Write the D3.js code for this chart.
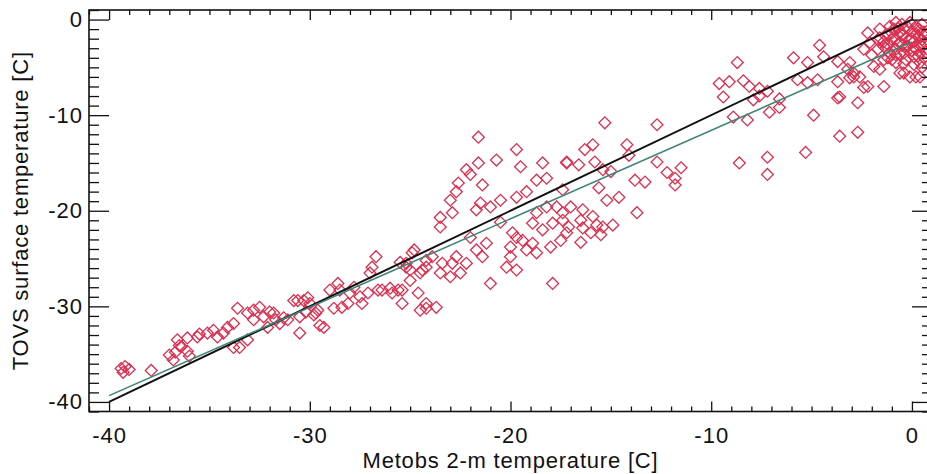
<!DOCTYPE html>
<html>
<head>
<meta charset="utf-8">
<script src="https://cdn.jsdelivr.net/npm/d3@7"></script>
<style>
  body { margin: 0; background: #fff; }
  text { font-family: 'Liberation Sans', Arial, sans-serif; fill: #111; }
</style>
</head>
<body>
<script>

const WIDTH = 927;
const HEIGHT = 474;

// Metobs 2-m temperature [C] (x) and TOVS surface temperature [C] (y)
const metobs = [
  -39.4, -39.2, -39.0, -39.3, -37.9, -37.0, -36.7, -36.4, -36.1, -36.8, -36.0, -36.6, -36.1, -36.5, -35.6,
  -35.5, -35.1, -34.8, -34.6, -34.3, -34.1, -33.8, -33.6, -33.1, -32.8, -32.5, -32.3, -32.1, -33.5, -33.1,
  -33.8, -32.8, -31.8, -31.3, -30.8, -30.5, -30.1, -29.7,
  -32.0, -31.7, -31.5, -31.1, -30.6, -30.3, -30.0, -30.5, -30.2, -29.8, -29.6, -29.5, -29.3, -29.0, -28.6,
  -28.5, -28.8, -28.4, -28.1, -28.0, -27.8, -27.5, -27.4, -27.1, -27.0, -26.9, -26.7, -26.6, -26.4, -26.0,
  -25.9, -25.6, -25.4, -25.5, -25.2, -25.0, -24.9, -24.8, -24.6, -24.5, -24.4, -24.2, -24.2,
  -21.6, -19.7, -20.7, -21.6, -19.5, -18.4, -17.2, -22.2, -22.0, -18.7, -18.2, -22.6, -21.4, -22.7, -20.5,
  -19.7, -19.2, -17.4, -23.0, -21.5, -21.7, -21.0, -23.5, -22.9, -18.7, -18.2, -17.7, -17.4, -23.5, -20.5,
  -19.9, -18.9, -18.4, -17.9, -17.4, -19.7, -19.4, -18.9, -18.7, -18.0, -17.5, -17.2, -20.0, -21.2, -21.7,
  -22.0, -21.4, -22.2, -22.7, -22.9, -23.4, -23.9, -24.2, -23.5, -23.0, -22.5, -24.5, -25.0, -25.4, -24.2,
  -23.7, -21.0, -20.2, -19.7, -20.0, -19.2, -17.9, -25.2,
  -15.3, -12.7, -16.3, -15.9, -14.2, -14.1, -17.2, -16.6, -15.8, -15.4, -15.0, -12.7, -12.2, -11.5, -11.8,
  -11.8, -13.8, -13.3, -15.6, -15.2, -14.6, -17.0, -16.4, -15.9, -16.5, -13.7, -17.1, -16.4, -15.7, -15.4,
  -14.9, -16.0, -15.5, -16.5,
  -8.7, -5.9, -4.6, -4.4, -5.2, -3.7, -3.2, -9.6, -9.1, -8.4, -8.1, -7.6, -7.2, -9.4, -7.9,
  -7.6, -6.6, -5.7, -5.2, -4.7, -3.7, -3.7, -2.7, -3.1, -7.1, -6.6, -8.9, -8.2, -4.9, -3.6,
  -2.7, -8.6, -7.2, -5.3, -7.2, -2.9, -2.6, -2.2, -1.4, -0.4, 0.2, -3.6,
  -2.2, -1.6, -1.1, -0.8, -0.5, -0.1, 0.2, 0.5, -2.4, -2.1, -1.7, -1.4, -1.1, -0.8, -0.3,
  0.2, 0.5, -3.1, -1.9, -1.6, -1.4, -0.8, -0.3, 0.4, -0.6, -0.1, 0.4, -2.9, -2.4,
  -1.2, -1.0, -0.6, -0.3, 0.0, 0.3, 0.6, -1.4, -0.9, -0.4, 0.1, 0.5, -1.2, -0.6, -0.1,
  -0.8, -0.4, 0.1, 0.6, -1.0, -1.7, -2.0, -1.6, -1.2, 0.3, -0.5, 0.1, 0.7, 0.4,
  -0.9, -0.7, -0.5, -0.2, 0.0, 0.2, 0.4, 0.6, -1.3, -0.6, 0.0, 0.3, -0.4, 0.1, 0.5,
  -1.0, -0.2, 0.4, 0.7, -0.7
]

const tovs = [
  -36.5, -36.3, -36.6, -36.9, -36.7, -35.1, -34.8, -34.2, -34.7, -35.6, -35.2, -33.5, -33.3, -34.1, -33.2,
  -32.9, -32.8, -32.5, -33.2, -32.8, -32.2, -31.8, -30.2, -30.7, -31.4, -30.1, -31.1, -32.2, -34.3, -33.5,
  -34.3, -30.4, -30.7, -31.2, -29.4, -32.8, -29.1, -30.7,
  -30.6, -31.4, -31.8, -31.4, -29.4, -29.4, -29.7, -31.1, -30.6, -30.9, -30.4, -32.0, -32.2, -28.3, -27.6,
  -28.3, -30.2, -30.1, -29.7, -28.6, -28.0, -29.0, -29.7, -28.6, -26.5, -25.9, -24.8, -28.3, -28.3, -28.1,
  -28.6, -28.3, -29.7, -25.4, -25.5, -26.2, -24.4, -24.1, -28.6, -30.4, -26.2, -30.2, -25.2,
  -12.3, -13.6, -14.7, -15.0, -15.4, -15.0, -15.0, -15.7, -16.2, -16.8, -16.6, -17.1, -17.3, -18.0, -18.9,
  -18.6, -18.0, -17.8, -18.9, -19.2, -19.9, -19.6, -20.7, -20.2, -20.2, -19.6, -19.6, -20.2, -21.7, -21.2,
  -22.3, -21.3, -22.0, -21.3, -21.0, -22.8, -23.1, -23.4, -24.4, -23.8, -23.1, -22.3, -23.8, -23.4, -24.1,
  -22.8, -24.8, -25.5, -24.8, -25.5, -25.5, -24.8, -25.9, -26.5, -26.9, -26.5, -26.5, -27.3, -28.3, -29.7,
  -30.1, -27.6, -25.9, -26.2, -24.8, -24.1, -27.6, -25.9,
  -10.8, -11.0, -13.6, -13.1, -13.1, -14.2, -14.9, -15.2, -14.9, -15.7, -15.9, -14.9, -16.0, -15.5, -16.6,
  -17.3, -16.8, -17.0, -17.6, -18.9, -18.6, -19.6, -19.9, -20.6, -21.0, -20.2, -21.7, -21.8, -21.5, -21.7,
  -21.5, -22.3, -22.5, -23.3,
  -4.5, -4.0, -2.7, -3.9, -4.5, -4.4, -5.2, -6.7, -6.5, -6.4, -7.0, -7.2, -7.5, -8.1, -8.4,
  -8.0, -8.3, -6.3, -6.6, -6.3, -6.5, -8.2, -8.7, -6.1, -9.7, -9.2, -10.2, -10.5, -10.0, -12.2,
  -11.8, -15.0, -14.4, -13.9, -16.2, -5.6, -6.0, -7.0, -7.0, -5.6, -6.0, -8.1,
  -1.4, -1.0, -0.7, -0.3, -0.5, -0.3, -0.7, -0.5, -3.1, -2.4, -3.1, -2.8, -3.5, -3.1, -2.8,
  -3.1, -2.8, -4.5, -4.9, -5.2, -4.2, -4.5, -4.2, -3.5, -5.6, -6.0, -6.0, -6.0, -7.1,
  -1.6, -2.1, -1.4, -1.9, -1.3, -1.8, -1.3, -2.3, -1.0, -1.0, -2.3, -2.1, -2.6, -2.4, -2.1,
  -3.7, -3.5, -3.9, -4.0, -4.2, -2.1, -3.7, -1.9, -4.0, -1.0, -2.7, -2.9, -2.5, -4.5,
  -1.8, -2.6, -1.6, -2.8, -2.0, -1.5, -2.6, -1.7, -3.0, -3.6, -3.3, -3.8, -4.6, -4.7, -5.0,
  -1.4, -0.8, -1.1, -3.4, -0.9
]

const points = metobs.map((d, i) => ({ x: d, y: tovs[i] }))

// axis ticks
const majorTicks = [-40, -30, -20, -10, 0]
const minorTicks = d3.range(-41, 2).filter(d => d % 10 !== 0)

// 1:1 line and linear fit
const lineX = [-40, 0]
const fitSlope = 0.925
const fitIntercept = -2.34

const frame = { left: 89, right: 932, top: 10, bottom: 411.5 }

const xScale = d3.scaleLinear()
  .domain([-41, 1])
  .range([frame.left, frame.right])

const yScale = d3.scaleLinear()
  .domain([-41, 1])
  .range([frame.bottom, frame.top])

const svg = d3.select('body')
  .append('svg')
  .attr('width', WIDTH)
  .attr('height', HEIGHT)

// diamonds
svg.append('g')
  .selectAll('path')
  .data(points)
  .enter()
  .append('path')
  .attr('d', d3.symbol(d3.symbolSquare, 70))
  .attr('transform', d => 'translate(' + xScale(d.x) + ',' + yScale(d.y) + ') rotate(45)')
  .attr('fill', 'none')
  .attr('stroke', '#dc2f50')
  .attr('stroke-width', 1.3)

// lines
const line = d3.line()
  .x(d => xScale(d[0]))
  .y(d => yScale(d[1]))

svg.append('path')
  .datum(lineX.map(d => [d, d]))
  .attr('d', line)
  .attr('fill', 'none')
  .attr('stroke', '#111')
  .attr('stroke-width', 2)

svg.append('path')
  .datum(lineX.map(d => [d, fitSlope * d + fitIntercept]))
  .attr('d', line)
  .attr('fill', 'none')
  .attr('stroke', '#3f8478')
  .attr('stroke-width', 1.6)

// axes: one group for the major ticks (with labels), one for the minor ones
const noLabel = () => ''
const axes = [
  { make: () => d3.axisLeft(yScale), t: 'translate(' + frame.left + ',0)', major: -20, labels: true, pad: 6 },
  { make: () => d3.axisRight(yScale), t: 'translate(' + frame.right + ',0)', major: -20 },
  { make: () => d3.axisBottom(xScale), t: 'translate(0,' + frame.bottom + ')', major: -10, labels: true, pad: 16 },
  { make: () => d3.axisTop(xScale), t: 'translate(0,' + frame.top + ')', major: -10 },
]

axes.forEach(a => {
  svg.append('g')
    .attr('class', 'major')
    .attr('transform', a.t)
    .call(a.make()
      .tickValues(majorTicks)
      .tickSizeInner(a.major)
      .tickSizeOuter(0)
      .tickPadding(a.pad || 0)
      .tickFormat(a.labels ? d => String(d) : noLabel))
    .select('.domain').remove()

  svg.append('g')
    .attr('class', 'minor')
    .attr('transform', a.t)
    .call(a.make()
      .tickValues(minorTicks)
      .tickSizeInner(a.major / 2)
      .tickSizeOuter(0)
      .tickFormat(noLabel))
    .select('.domain').remove()
})

svg.selectAll('.tick line')
  .attr('stroke', '#111')
  .attr('stroke-width', 1.3)

svg.selectAll('.major .tick text')
  .style('font-size', '22px')
  .style('letter-spacing', '1px')
  .style('font-family', "'Liberation Sans', Arial, sans-serif")
  .attr('fill', '#111')

svg.append('rect')
  .attr('x', frame.left)
  .attr('y', frame.top)
  .attr('width', frame.right - frame.left)
  .attr('height', frame.bottom - frame.top)
  .attr('fill', 'none')
  .attr('stroke', '#111')
  .attr('stroke-width', 1.6)

// titles
svg.append('text')
  .attr('x', (frame.left + frame.right) / 2)
  .attr('y', 468)
  .attr('text-anchor', 'middle')
  .style('font-size', '22px')
  .style('letter-spacing', '0.8px')
  .text('Metobs 2-m temperature [C]')

svg.append('text')
  .attr('transform', 'translate(28,' + (frame.top + frame.bottom) / 2 + ') rotate(-90)')
  .attr('text-anchor', 'middle')
  .style('font-size', '22px')
  .style('letter-spacing', '0.8px')
  .text('TOVS surface temperature [C]')

</script>
</body>
</html>
